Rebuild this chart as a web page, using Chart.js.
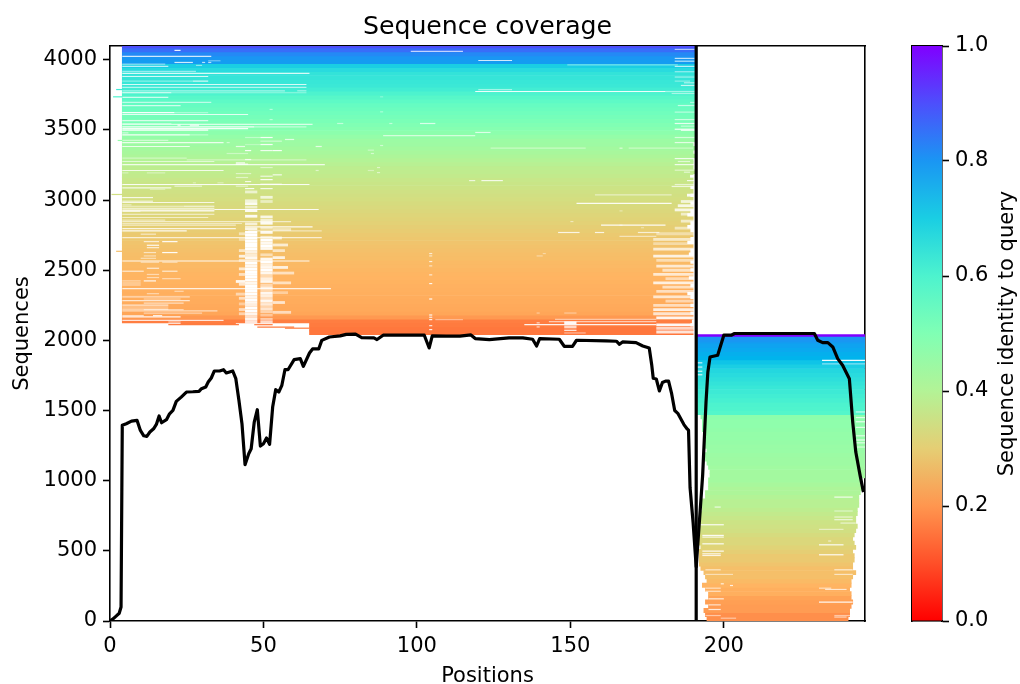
<!DOCTYPE html>
<html>
<head>
<meta charset="utf-8">
<title>Sequence coverage</title>
<script src="https://cdn.jsdelivr.net/npm/chart.js@4"></script>
<style>
  body { margin: 0; background: #fff; }
  canvas { position: absolute; top: 0; }
  #coverage { left: 0; }
  #colorbar { left: 880px; }
</style>
</head>
<body>
<canvas id="coverage" width="880" height="684"></canvas>
<canvas id="colorbar" width="140" height="684"></canvas>
<script>
var xTicks = [0, 50, 100, 150, 200];
var yTicks = [0, 500, 1000, 1500, 2000, 2500, 3000, 3500, 4000];
var barTicks = [0, 0.2, 0.4, 0.6, 0.8, 1];
var queryBreak = [191];

// upper block (first chain), one entry per row
var upperSeq = [2054,2082,2110,2138,2166,2194,2222,2250,2278,2306,2334,2362,2390,2418,2446,2474,2502,2530,2558,2586,2614,2642,2670,2698,2726,
  2754,2782,2810,2838,2866,2894,2922,2950,2978,3006,3034,3062,3090,3118,3146,3174,3202,3230,3258,3286,3314,3342,3370,3398,3426,
  3454,3482,3510,3538,3566,3594,3622,3650,3678,3706,3734,3762,3790,3818,3846,3874,3902,3930,3958,3986,4014,4042,4070,4098];
var upperIdentity = [.155,.155,.16,.165,.205,.225,.23,.232,.235,.237,.24,.242,.245,.247,.25,.252,.255,.258,.26,.265,.268,.272,.276,.28,.285,
  .29,.295,.30,.305,.31,.315,.32,.325,.33,.335,.34,.345,.35,.355,.36,.37,.375,.38,.39,.40,.41,.42,.43,.44,.445,
  .46,.475,.49,.50,.51,.52,.53,.54,.55,.565,.58,.60,.62,.635,.64,.645,.65,.67,.70,.79,.80,.82,.86,.90];
var upperStart = [65,65,65,4,4,4,4,4,4,4,4,4,4,4,4,4,4,4,4,4,4,4,4,4,4,4,4,4,4,4,4,4,4,4,4,4,4,4,4,4,4,4,4,4,4,4,4,4,4,4,4,4,4,4,4,4,4,4,4,4,4,4,4,4,4,4,4,4,4,4,4,4,4,4];
var upperEnd = [190,190,189,189.5,190,189,190,189,190,189,188,190,189,190,188.5,190,189,190,189,190,188.5,189,190,188,189,
  190,189,188,189,190,188,189,190,189,190,189,190,189,190,190,190,190.5,190,190,190,190.5,190,190.5,190,190.5,
  190.5,190.5,190.5,190.5,190.5,190.5,190.5,190.5,190.5,190.5,190.5,190.5,190.5,190.5,190.5,190.5,190.5,190.5,190.5,190.5,190.5,190.5,190.5,190.5];

// lower block (second chain)
var lowerSeq = [2026,15,45,75,105,135,165,195,225,255,285,315,345,375,405,435,465,495,525,555,585,615,645,675,705,735,765,795,825,855,885,915,945,975,1005,1035,
  1065,1095,1125,1155,1185,1215,1245,1275,1305,1335,1365,1395,1425,1455,1485,1515,1545,1575,1605,1635,1665,1695,1725,1755,1785,1815,1845,1875,1905,1935,1965,1995,2008];
var lowerIdentity = [1,.19,.19,.21,.21,.215,.22,.24,.24,.25,.26,.27,.27,.27,.28,.29,.29,.30,.31,.32,.32,.33,.34,.345,.35,.36,.37,.38,.39,.39,.40,.41,.41,.42,.43,.43,
  .43,.435,.44,.44,.445,.45,.45,.455,.46,.46,.465,.47,.47,.475,.585,.595,.60,.61,.62,.63,.64,.65,.66,.67,.68,.70,.72,.75,.76,.77,.78,.79,.80];
var lowerStart = [191,194.5,194,193.5,195,194,195,195,194,193,194.5,194,193.5,192.5,192,192,192,192,192.5,192,192,192,192,192,192.5,192.5,192,193,192.5,193,194,194,195,195,195,195.5,
  195.5,195,194.5,194,194,194.5,194,194,193.5,193.5,193,193,193,192.5,191,191,191,191,191,191,191,191,191,191,191,191,191,191,191,191,191,191,191];
var lowerEnd = [246,240.5,241,241,241.5,242,241.5,241.5,241,241.5,241.5,242,243,242,242,242.5,242.5,242,243,242.5,242,242.5,243,243.5,243,243,243.5,243.5,244,244,244,244.5,245,245,245,246,
  246,246,246,246,246,246,246,246,246,246,246,246,246,246,246,246,246,246,246,246,246,246,246,246,246,246,246,246,246,246,246,246,246];

// [sequence, from position, to position, share of the row that is a gap]
var thinGaps = [
  [4067,21,23,.9],[4024,4,33,.8],[3993,32,36,.4],[3981,21,27,.8],[3981,30,31,.7],[3981,32,33,.7],[3969,4,18,.5],[3960,28,30,.5],[3953,4,19,.7],
  [3917,4,28,.5],[3903,4,65,.8],[3881,4,32,.8],[3848,4,27,.4],[3848,27,32,.8],[3824,4,64,.8],[3803,4,64,.6],[3779,4,57,.5],[3779,61,64,.5],
  [3765,4,20,.9],[3765,20,64,.4],[3732,4,19,.7],[3696,4,33,.6],[3674,4,23,.7],[3624,4,21,.95],[3624,21,32,.4],[3610,4,45,.8],[3567,4,32,.7],
  [3546,4,20,.4],[3534,22,23,.9],[3534,26,29,.9],[3539,4,66,.7],[3522,4,47,.9],[3522,47,64,.5],[3510,4,45,.9],[3503,4,32,.6],[3496,4,32,.7],
  [3479,4,6,.6],[3465,4,26,.9],[3465,26,32,.4],[3446,49,53,.9],[3446,44,49,.4],[3425,4,19,.5],[3420,49,56,.5],[3410,4,37,.8],[3410,38,39,.5],
  [3396,49,53,.9],[3396,44,49,.3],[3382,4,26,.8],[3382,41,44,.7],[3382,67,69,.7],[3432,57,60,.7],[3460,89,119,.6],[3546,74,76,.5],[3546,91,92,.5],
  [3629,88,89,.4],[3736,88,89,.3],[3646,52,53,.5],[3574,52,53,.5],[3389,88,89,.5],[3356,84,86,.4],[3332,85,86,.5],[3353,44,46,.9],[3353,49,53,.8],[3353,53,56,.9],
  [3332,38,45,.4],[3289,44,46,.8],[3299,4,25,.4],[3287,25,64,.4],[3275,4,34,.6],[3265,41,44,.9],[3256,41,45,.9],[3253,4,70,.8],[3232,49,53,.5],
  [3211,4,37,.8],[3211,67,68,.5],[3211,84,86,.4],[3232,87,88,.5],[3196,87,88,.5],[3194,12,18,.4],[3194,4,6,.4],[3189,41,46,.5],[3180,53,56,.8],
  [3170,49,53,.7],[3161,41,45,.5],[3146,49,53,.9],[3132,44,46,.8],[3123,35,37,.4],[3123,27,28,.4],[3113,49,56,.8],[3111,4,65,.9],[3099,21,30,.6],
  [3099,41,45,.5],[3087,4,20,.8],[3082,44,47,.9],[3082,49,53,.8],[3077,13,18,.4],
  [4060,98,115,.7],[3995,120,131,.8],[3964,149,185,.4],[3788,120,131,.5],[3774,119,181,.9],[3546,101,106,.7],[3482,119,124,.7],[3370,124,155,.4],[3370,166,167,.6],
  [3370,169,190,.4],[3139,117,119,.7],[3139,121,128,.8],
  [4074,184,190.5,.6],[4010,184,190.5,.7],[3990,184,190.5,.7],[3953,184,190.5,.7],[3915,184,190.5,.5],[3877,184,190.5,.5],[3848,184,189,.4],[3836,187,190.5,.6],
  [3817,186,190.5,.7],[3774,181,190.5,.5],[3760,183,190.5,.5],[3696,189,190.5,.5],[3674,185,190.5,.6],[3627,184,190.5,.5],[3574,184,190.5,.6],[3546,184,190.5,.8],
  [3527,186,190.5,.5],[3505,184,190.5,.9],[3498,186,190.5,.9],[3446,184,190.5,.6],[3410,184,190.5,.7],[3296,184,190.5,.8],[3275,185,189,.6],[3253,184,190.5,.8],
  [3213,184,190.5,.5],[3199,187,189,.6],[3139,188,190.5,.8],[3111,184,190.5,.6],[3097,183,190.5,.7],
  [3018,4,14,.8],[2992,4,14,.7],[2983,4,34,.8],[2966,4,7,.5],[2956,4,24,.6],[2956,24,34,.7],[2942,4,34,.8],[2933,34,68,.9],[2928,4,34,.95],[2921,4,10,.95],[2921,10,34,.6],
  [2899,4,34,.7],[2876,4,32,.6],[2857,4,18,.5],[2847,4,43,.6],[2847,43,59,.6],[2833,4,43,.5],[2821,4,41,.6],[2809,44,66,.9],[2797,4,41,.8],[2780,4,25,.9],[2780,45,69,.5],
  [2757,10,15,.6],[2733,4,69,.7],[2704,11,16,.7],[2704,17,22,.9],[2678,12,16,.9],[2661,12,16,.7],[2626,17,22,.95],[2626,11,15,.6],[2602,11,15,.5],[2585,10,15,.5],[2566,4,65,.9],
  [2557,10,16,.5],[2557,17,22,.5],[2514,12,16,.7],[2493,4,11,.7],[2493,17,22,.7],[2470,12,16,.5],[2448,12,16,.5],[2440,17,23,.5],[2424,11,15,.9],[2424,4,10,.5],[2409,4,10,.5],
  [2395,4,10,.5],[2369,4,72,.8],[2350,21,24,.5],[2333,12,16,.5],[2310,4,26,.6],[2295,11,23,.5],[2283,4,26,.7],[2266,11,24,.6],[2252,4,19,.7],[2238,4,19,.5],[2223,4,19,.6],
  [2219,11,24,.5],[2210,4,35,.6],[2195,11,30,.5],[2176,4,11,.7],[2176,14,17,.9],[2167,4,23,.9],[2143,4,37,.8],[2131,19,23,.6],
  [3037,158,183,.5],[2976,152,183,.9],[2923,166,167,.4],[2847,150,151,.5],[2821,160,181,.9],[2821,166,167,.5],[2803,173,174,.4],[2769,146,153,.8],[2769,158,161,.8],[2769,172,179,.7],
  [2742,166,178,.5],[2619,141,142,.4],[2602,139,141,.4],[2195,139,140,.4],[2195,148,152,.4],[2150,145,178,.5],[2148,106,115,.4],[2134,143,178,.6],[2112,135,178,.9],[2096,139,140,.7],
  [2125,139,140,.7],[2072,148,152,.9],[2053,148,155,.5],
  [2619,104,105,.7],[2602,104,105,.6],[2562,104,105,.8],[2531,104,105,.6],[2467,104,105,.7],[2405,104,105,.9],[2295,104,105,.95],[2181,104,105,.9],[2165,104,105,.8],[2148,104,105,.9],[2105,104,105,.8],[2077,104,105,.9],
  [883,236,242,.8],[812,197,199,.7],[784,236,242,.5],[741,236,242,.6],[722,236,242,.7],[686,192,200,.9],[698,238,243,.6],[653,231,239,.5],[610,193,200,.9],[598,193,200,.8],[570,234,235,.6],
  [550,193,200,.9],[543,231,239,.9],[498,193,200,.9],[479,193,199,.8],[472,231,239,.9],[467,193,199,.8],[365,194,199,.6],[365,236,242,.7],[332,194,203,.5],[332,236,242,.6],
  [265,199,200,.8],[253,202,203,.8],[234,194,199,.6],[234,231,235,.6],[225,233,240,.7],[212,194,199,.6],[158,195,200,.8],[134,231,242,.9],[115,195,199,.7],[82,195,199,.8],[39,194,199,.5],
  [39,236,242,.5],[20,199,204,.5],[28,236,240,.6],
  [1858,232,246,.95],[1832,232,246,.5],[1840,191,193,.8],[1810,191,193,.8],[1780,191,193,.8],[1755,191,193,.8],[1490,243,246,.7],[1450,243,246,.7],[1420,243,246,.8],[1380,243,246,.7],[1320,243,246,.7],[1290,243,246,.8],[1270,243,246,.7],[1240,243,246,.6]
];

// same layout, for the wider gap patches
var thickGaps = [
  [3058,44,48,.6],[2995,44,48,.7],[2975,44,48,.9],[2950,44,48,.6],[2925,44,48,.9],[2885,44,48,.9],[2830,44,48,.7],[2795,44,48,.8],
  [2770,44,48,1],[2750,44,48,1],[2730,44,48,1],[2710,44,48,1],[2690,44,48,1],[2670,44,48,1],[2650,44,48,1],[2630,44,48,.8],[2610,44,48,.7],[2590,44,48,.9],[2570,44,48,.6],
  [2550,44,48,1],[2530,44,48,.9],[2510,44,48,1],[2490,44,48,1],[2470,44,48,1],[2450,44,48,1],[2430,44,48,1],[2410,44,48,.9],[2390,44,48,1],[2370,44,48,1],[2350,44,48,1],
  [2330,44,48,1],[2310,44,48,.9],[2290,44,48,1],[2270,44,48,.9],[2250,44,48,.8],[2230,44,48,1],[2210,44,48,1],[2190,44,48,.9],[2170,44,48,.7],[2150,44,48,.9],[2130,44,48,.8],
  [3020,49,53,.7],[2990,49,53,.5],[2880,49,53,.8],[2855,49,53,.7],[2835,49,53,.9],[2800,49,53,.5],[2770,49,53,.9],[2735,49,53,.6],[2715,49,53,1],[2695,49,53,.9],[2675,49,53,1],[2655,49,53,.9],
  [2610,49,53,.5],[2580,49,53,.9],[2560,49,53,1],[2540,49,53,.8],[2520,49,53,.9],[2500,49,53,1],[2480,49,53,.9],[2460,49,53,.5],[2440,49,53,.8],[2420,49,53,.9],[2395,49,53,.5],[2375,49,53,.8],
  [2355,49,53,.5],[2335,49,53,.9],[2315,49,53,.8],[2295,49,53,.6],[2280,49,53,.9],[2260,49,53,.7],[2245,49,53,.5],[2225,49,53,.7],[2205,49,53,.5],[2180,49,53,.4],[2150,49,53,.5],[2130,49,53,.7],
  [2760,42,44,.5],[2720,42,44,.4],[2640,42,44,.6],[2600,42,44,.8],[2570,42,44,.5],[2510,42,44,.7],[2470,42,44,.6],[2420,41,44,.9],[2400,42,44,.7],[2330,41,44,.5],[2300,42,44,.6],[2260,42,44,.4],[2220,42,44,.6],[2190,42,44,.5],
  [2790,53,59,.5],[2730,53,56,.7],[2680,53,58,.7],[2640,53,57,.6],[2590,53,57,.8],[2520,53,58,.8],[2480,53,60,.6],[2410,53,59,.6],[2340,53,58,.4],[2270,53,57,.7],[2200,53,59,.6],
  [2125,148,152,.95],[2096,148,152,.7],
  [2800,184,190.5,.5],[2760,178,190.5,.4],[2720,177,190.5,.6],[2690,177,190.5,.4],[2650,177,190.5,.7],[2600,177,190.5,.8],[2570,178,190.5,.5],[2530,178,190.5,.7],[2500,180,190.5,.6],[2470,177,190.5,.7],
  [2440,181,190.5,.5],[2410,177,190.5,.8],[2380,180,190.5,.6],[2350,178,190.5,.6],[2310,177,190.5,.7],[2280,181,190.5,.5],[2250,177,190.5,.6],[2220,177,190.5,.8],[2190,177,190.5,.7],
  [2160,178,190.5,.9],[2110,178,190.5,.95],[2085,178,190.5,.7],[2060,178,190.5,.8],
  [3035,188,190.5,.9],[2990,186,190.5,.7],[2960,185,190.5,.8],[2930,184,190.5,.8],[2900,186,190.5,.6],[2850,186,190.5,.6],[3170,189,190.5,1]
];

// short pieces outside the main rows: [sequence, from, to, identity]
var overhangs = [[3788,2,4,.63],[3736,1,4,.6],[3425,2.5,4,.46],[3040,0.5,4,.34],[2635,2,4,.27],
  [2112,19,42,.16],[2112,47,53,.16],[2120,23,41,.16],[2087,57,65,.16],[2094,48,60,.16]];

var coveragePos = [0,1,2,3,3.6,4,5.3,7,8.8,9.9,11,12,13,14.2,15.1,16,16.8,18.4,19.4,20.5,21.6,23.2,24.9,27,29,29.8,31.2,32,33,34,35.7,37,37.9,40,41,42,43,44,45.2,46,47,48,49,50,51,52,53,54,55,56,57,58,60,62,63,65,66,68,69,71.5,75,77,80,82,86,87,89,
  102.4,104,105,109.5,114,117.6,119,123.6,130,134.5,137.7,139,140,146.4,148,150.7,152,161.6,165,166,167,171.4,173.6,175.7,176.5,177,178,179,180,181,182,183,184,185,187,188,188.5,189,190,191,
  193.1,194.2,194.8,195.5,198,199,200,202.4,203.5,213.8,229.5,230.6,232.2,233.9,235.5,237.1,238.7,240.9,242,243,244.4,245.5];
var coverageCount = [0,15,35,55,100,1395,1406,1425,1430,1358,1320,1316,1347,1370,1401,1461,1413,1435,1477,1501,1565,1596,1632,1634,1637,1656,1668,1703,1732,1782,1782,1791,1768,1782,1727,1573,1406,1114,1192,1228,1418,1506,1247,1264,1304,1259,1525,1649,1632,1680,1791,1791,1863,1870,1815,1910,1939,1939,2000,2024,2032,2043,2044,2020,2018,2006,2037,
  2037,1946,2032,2030,2030,2039,2013,2006,2018,2018,2008,1960,2013,2008,1958,1958,2001,1996,1994,1972,1989,1984,1960,1946,1827,1730,1725,1640,1700,1710,1710,1620,1500,1480,1400,1370,1360,950,700,385,
  1038,1561,1775,1882,1894,1965,2037,2037,2049,2049,2049,2001,1984,1984,1953,1870,1823,1727,1418,1204,1038,919];

var font = 'DejaVu Sans';
var yMax = 4098;
var pxPerSeq = 575 / yMax;

// matplotlib rainbow, reversed
function rainbowR(v) {
  var t = 1 - v;
  var r = Math.min(1, Math.abs(2 * t - 0.5));
  var g = Math.sin(Math.PI * t);
  var b = Math.cos(Math.PI * t / 2);
  return 'rgb(' + Math.round(r * 255) + ',' + Math.round(g * 255) + ',' + Math.round(b * 255) + ')';
}

function rowPoints(seq, from, to) {
  return seq.map(function(s, i) { return {x: [from[i], to[i]], y: s}; });
}

function gapPoints(list) {
  return list.map(function(g) { return {x: [g[1], g[2]], y: g[0]}; });
}

function gapColors(list) {
  return list.map(function(g) { return 'rgba(255,255,255,' + g[3] + ')'; });
}

function fixTicks(values) {
  return function(axis) {
    axis.ticks = values.map(function(v) { return {value: v}; });
  };
}

var tickStyle = {
  color: '#000', padding: 6, font: {family: font, size: 21}, maxRotation: 0, autoSkip: false,
  callback: function(v) { return String(v); }
};
var gridStyle = {display: true, drawOnChartArea: false, drawTicks: true, tickLength: 7, tickWidth: 1.6, tickColor: '#000', offset: false};
var borderStyle = {display: true, color: '#000', width: 1.6};
var noTicks = {
  ticks: {display: false},
  grid: {display: false, drawTicks: false, offset: false},
  border: borderStyle,
  offset: false
};

new Chart(document.getElementById('coverage'), {
  type: 'bar',
  data: {
    datasets: [
      {
        type: 'line', label: 'Coverage', indexAxis: 'x', order: 0,
        data: coveragePos.map(function(p, i) { return {x: p, y: coverageCount[i]}; }),
        borderColor: '#000', borderWidth: 3.2, pointRadius: 0, tension: 0, borderJoinStyle: 'round', fill: false
      },
      {
        type: 'line', label: 'Chain break', indexAxis: 'x', order: 1,
        data: [{x: queryBreak[0], y: 0}, {x: queryBreak[0], y: yMax}],
        borderColor: '#000', borderWidth: 3.2, pointRadius: 0, fill: false
      },
      {
        label: 'Overhangs', order: 2, grouped: false, barThickness: 1.2, inflateAmount: 0,
        data: gapPoints(overhangs), backgroundColor: overhangs.map(function(o) { return rainbowR(o[3]); })
      },
      {
        label: 'Gaps', order: 3, grouped: false, barThickness: 1.2, inflateAmount: 0,
        data: gapPoints(thinGaps), backgroundColor: gapColors(thinGaps)
      },
      {
        label: 'Gap patches', order: 4, grouped: false, barThickness: 2.8, inflateAmount: 0,
        data: gapPoints(thickGaps), backgroundColor: gapColors(thickGaps)
      },
      {
        label: 'Upper rows', order: 5, grouped: false, barThickness: 28 * pxPerSeq,
        data: rowPoints(upperSeq, upperStart, upperEnd), backgroundColor: upperIdentity.map(rainbowR)
      },
      {
        label: 'Lower rows', order: 6, grouped: false, barThickness: 30 * pxPerSeq,
        data: rowPoints(lowerSeq, lowerStart, lowerEnd), backgroundColor: lowerIdentity.map(rainbowR)
      }
    ]
  },
  options: {
    indexAxis: 'y',
    responsive: false,
    animation: false,
    events: [],
    layout: {padding: {right: 15, left: 0, top: 0, bottom: 0}},
    plugins: {
      legend: {display: false},
      tooltip: {enabled: false},
      title: {
        display: true, fullSize: false, text: 'Sequence coverage', color: '#000',
        font: {family: font, size: 25.2, weight: 'normal', lineHeight: 1.2},
        padding: {top: 12, bottom: 3.8}
      }
    },
    scales: {
      x: {
        type: 'linear', position: 'bottom', min: 0, max: 246, offset: false,
        afterBuildTicks: fixTicks(xTicks),
        afterFit: function(axis) { axis.height = 63; },
        ticks: tickStyle, grid: gridStyle, border: borderStyle,
        title: {display: true, text: 'Positions', color: '#000', font: {family: font, size: 21, lineHeight: 0.67}, padding: {top: 0, bottom: 0}}
      },
      y: {
        type: 'linear', position: 'left', min: 0, max: yMax, offset: false,
        afterBuildTicks: fixTicks(yTicks),
        afterFit: function(axis) { axis.width = 110; },
        ticks: tickStyle, grid: gridStyle, border: borderStyle,
        title: {display: true, text: 'Sequences', color: '#000', font: {family: font, size: 21}, padding: {top: 10, bottom: 0}}
      },
      xTop: Object.assign({type: 'linear', axis: 'x', position: 'top', min: 0, max: 246}, noTicks),
      yRight: Object.assign({type: 'linear', axis: 'y', position: 'right', min: 0, max: yMax}, noTicks)
    }
  }
});

var barLabel = {
  id: 'barLabel',
  afterDraw: function(chart) {
    var ctx = chart.ctx;
    ctx.save();
    ctx.translate(128, (chart.chartArea.top + chart.chartArea.bottom) / 2);
    ctx.rotate(-Math.PI / 2);
    ctx.fillStyle = '#000';
    ctx.font = '21px "' + font + '"';
    ctx.textAlign = 'center';
    ctx.textBaseline = 'middle';
    ctx.fillText('Sequence identity to query', 0, 0);
    ctx.restore();
  }
};

new Chart(document.getElementById('colorbar'), {
  type: 'bar',
  plugins: [barLabel],
  data: {
    labels: ['identity'],
    datasets: [{
      data: [[barTicks[0], barTicks[barTicks.length - 1]]],
      categoryPercentage: 1, barPercentage: 1, inflateAmount: 0,
      backgroundColor: function(context) {
        var area = context.chart.chartArea;
        if (!area) return '#fff';
        var gradient = context.chart.ctx.createLinearGradient(0, area.bottom, 0, area.top);
        [0, .1, .2, .3, .4, .5, .6, .7, .8, .9, 1].forEach(function(v) {
          gradient.addColorStop(v, rainbowR(v));
        });
        return gradient;
      }
    }]
  },
  options: {
    responsive: false,
    animation: false,
    events: [],
    layout: {padding: {left: 32, top: 46, bottom: 63, right: 0}},
    plugins: {legend: {display: false}, tooltip: {enabled: false}},
    scales: {
      x: {display: true, offset: true, ticks: {display: false}, grid: {display: false, drawTicks: false, offset: true}, border: borderStyle},
      xTop: {type: 'category', axis: 'x', position: 'top', ticks: {display: false}, grid: {display: false, drawTicks: false}, border: borderStyle},
      y: {
        type: 'linear', position: 'right', min: 0, max: 1,
        afterBuildTicks: fixTicks(barTicks),
        afterFit: function(axis) { axis.width = 78; },
        ticks: Object.assign({}, tickStyle, {callback: function(v) { return v.toFixed(1); }}),
        grid: gridStyle, border: borderStyle
      },
      yLeft: {type: 'linear', axis: 'y', position: 'left', min: 0, max: 1, ticks: {display: false}, grid: {display: false, drawTicks: false}, border: borderStyle}
    }
  }
});
</script>
</body>
</html>
